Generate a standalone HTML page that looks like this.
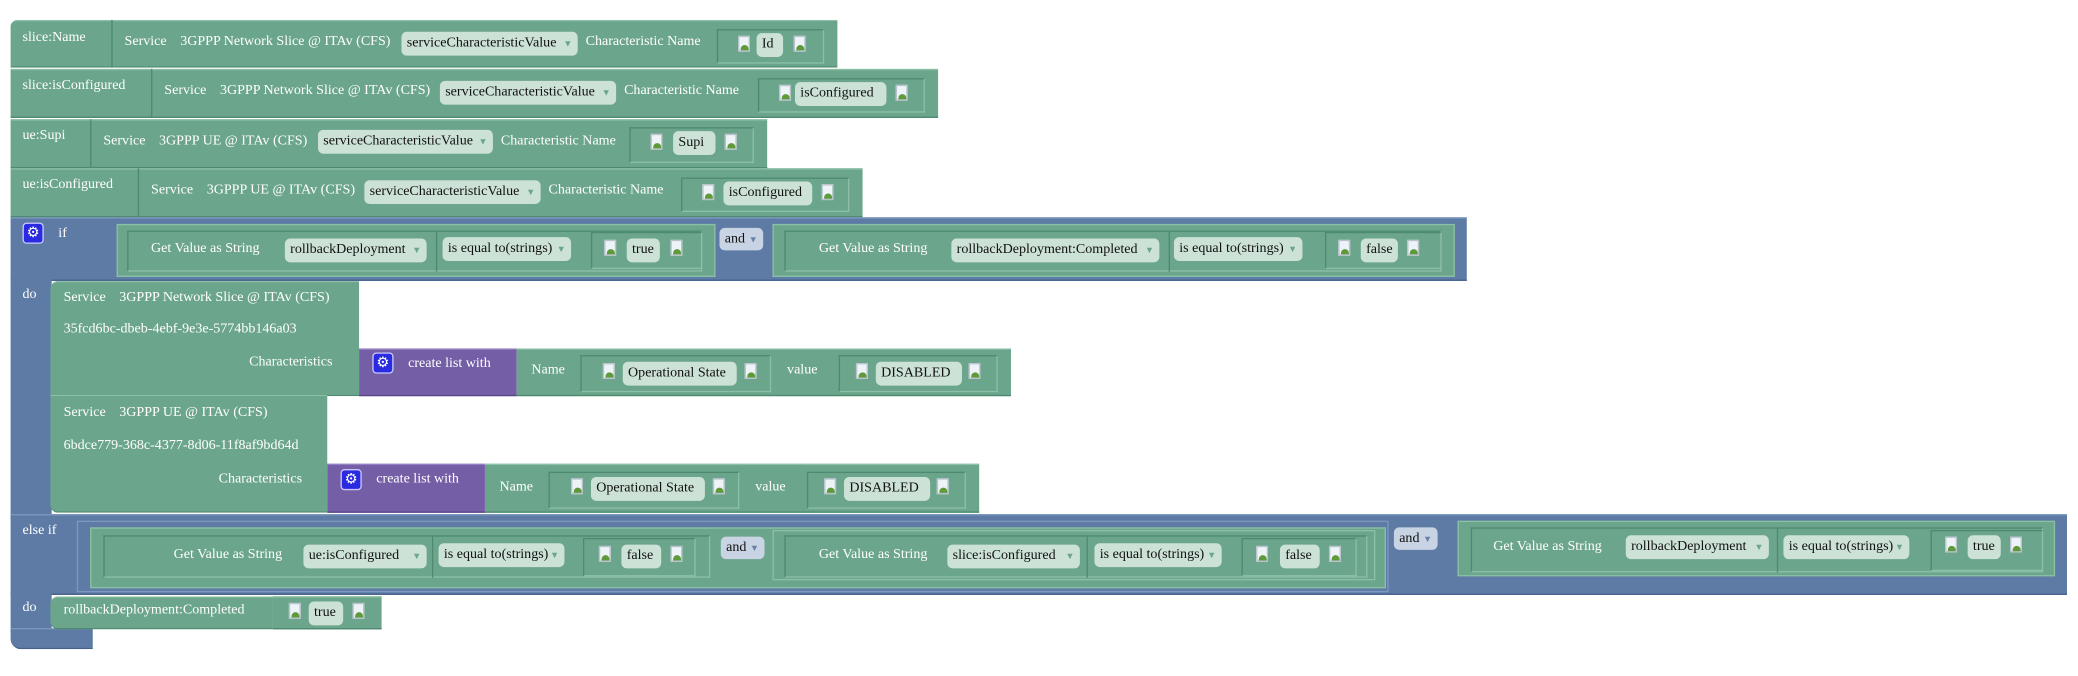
<!DOCTYPE html>
<html><head><meta charset="utf-8"><style>
html,body{margin:0;padding:0;background:#fff;width:2078px;height:674px;overflow:hidden}
#c{position:absolute;left:0;top:0;transform:scale(1.325);transform-origin:0 0;width:1570px;height:510px}
.g{position:absolute;background:#6ba58b;border-top:1px solid #8cc0a6;border-bottom:1px solid #4e8a70;box-sizing:border-box}
.bl{position:absolute;background:#5d7ba5;border-top:1px solid #7d98c0;border-bottom:1px solid #46628a;box-sizing:border-box}
.pu{position:absolute;background:#745ea6;border-top:1px solid #937fc2;border-bottom:1px solid #5a4688;box-sizing:border-box}
.ib{position:absolute;background:#6ba58b;border:1px solid #4e8a70;border-right-color:#8cc0a6;border-bottom-color:#8cc0a6;box-sizing:border-box}
.t{position:absolute;color:#fff;font:10.6px "Liberation Serif",serif;white-space:nowrap;line-height:14px}
.p{position:absolute;background:#cde2d6;color:#111;font:10.6px "Liberation Serif",serif;white-space:nowrap;border-radius:4px;height:18px;line-height:18px;padding:0 4px;box-sizing:border-box;overflow:hidden}
.a{position:absolute;background:#c8d3e3;color:#111;font:10.6px "Liberation Serif",serif;border-radius:4px;height:17px;line-height:17px;padding:0 4px;white-space:nowrap}
.ar{color:#6ba58b;font-size:7px;position:absolute;right:4px}
.aa{color:#6b82a8;font-size:7px}
.im{position:absolute;width:9px;height:12px;background:#eef3f7;border:1px solid #b8c2cc;box-sizing:border-box}
.im:after{content:"";position:absolute;left:1px;bottom:0;width:6px;height:4px;background:#5e9a3a;border-radius:3px 3px 0 0}
.gear{position:absolute;width:16px;height:16px;background:#2a2ae0;border:1px solid #c8c8ff;border-radius:3px;box-sizing:border-box;color:#fff;font-size:11px;line-height:14px;text-align:center}
.sep{position:absolute;width:1px;background:#4e8a70}
</style></head><body><div id="c">

<!-- Row1 -->
<div class="g" style="left:8px;top:15px;width:624px;height:36px;border-radius:5px 0 0 0"></div>
<div class="sep" style="left:84px;top:15px;height:36px"></div>
<div class="t" style="left:17px;top:22px">slice:Name</div>
<div class="t" style="left:94px;top:25px">Service</div>
<div class="t" style="left:136px;top:25px">3GPPP Network Slice @ ITAv (CFS)</div>
<div class="p" style="left:303px;top:24px;width:133px">serviceCharacteristicValue <span class="ar">▼</span></div>
<div class="t" style="left:442px;top:25px">Characteristic Name</div>
<div class="ib" style="left:541px;top:22px;width:81px;height:26px"></div>
<div class="im" style="left:557px;top:27px"></div>
<div class="p" style="left:571px;top:25px;width:20px">Id</div>
<div class="im" style="left:599px;top:27px"></div>

<!-- Row2 -->
<div class="g" style="left:8px;top:52px;width:700px;height:37px"></div>
<div class="sep" style="left:114px;top:52px;height:37px"></div>
<div class="t" style="left:17px;top:58px">slice:isConfigured</div>
<div class="t" style="left:124px;top:62px">Service</div>
<div class="t" style="left:166px;top:62px">3GPPP Network Slice @ ITAv (CFS)</div>
<div class="p" style="left:332px;top:61px;width:133px">serviceCharacteristicValue <span class="ar">▼</span></div>
<div class="t" style="left:471px;top:62px">Characteristic Name</div>
<div class="ib" style="left:572px;top:59px;width:126px;height:26px"></div>
<div class="im" style="left:588px;top:64px"></div>
<div class="p" style="left:600px;top:62px;width:69px">isConfigured</div>
<div class="im" style="left:676px;top:64px"></div>

<!-- Row3 -->
<div class="g" style="left:8px;top:90px;width:571px;height:37px"></div>
<div class="sep" style="left:68px;top:90px;height:37px"></div>
<div class="t" style="left:17px;top:96px">ue:Supi</div>
<div class="t" style="left:78px;top:100px">Service</div>
<div class="t" style="left:120px;top:100px">3GPPP UE @ ITAv (CFS)</div>
<div class="p" style="left:240px;top:98px;width:132px">serviceCharacteristicValue <span class="ar">▼</span></div>
<div class="t" style="left:378px;top:100px">Characteristic Name</div>
<div class="ib" style="left:475px;top:96px;width:94px;height:27px"></div>
<div class="im" style="left:491px;top:101px"></div>
<div class="p" style="left:508px;top:99px;width:32px">Supi</div>
<div class="im" style="left:547px;top:101px"></div>

<!-- Row4 -->
<div class="g" style="left:8px;top:127px;width:643px;height:37px"></div>
<div class="sep" style="left:104px;top:127px;height:37px"></div>
<div class="t" style="left:17px;top:133px">ue:isConfigured</div>
<div class="t" style="left:114px;top:137px">Service</div>
<div class="t" style="left:156px;top:137px">3GPPP UE @ ITAv (CFS)</div>
<div class="p" style="left:275px;top:136px;width:133px">serviceCharacteristicValue <span class="ar">▼</span></div>
<div class="t" style="left:414px;top:137px">Characteristic Name</div>
<div class="ib" style="left:514px;top:134px;width:127px;height:26px"></div>
<div class="im" style="left:530px;top:139px"></div>
<div class="p" style="left:546px;top:137px;width:67px">isConfigured</div>
<div class="im" style="left:620px;top:139px"></div>

<!-- IF block -->
<div class="bl" style="left:8px;top:164px;width:1099px;height:48px"></div>
<div class="bl" style="left:8px;top:210px;width:31px;height:182px;border:none"></div>
<div class="bl" style="left:8px;top:388px;width:1552px;height:61px"></div>
<div class="bl" style="left:8px;top:447px;width:31px;height:30px;border:none"></div>
<div class="bl" style="left:8px;top:474px;width:62px;height:16px;border-radius:0 0 0 8px"></div>
<div class="gear" style="left:17px;top:168px">⚙</div>
<div class="t" style="left:44px;top:170px">if</div>
<div class="g" style="left:88px;top:169px;width:452px;height:40px;border:1px solid #8cc0a6"></div>
<div class="ib" style="left:96px;top:174px;width:434px;height:31px"></div>
<div class="t" style="left:114px;top:181px">Get Value as String</div>
<div class="p" style="left:215px;top:180px;width:107px">rollbackDeployment <span class="ar">▼</span></div>
<div class="sep" style="left:329px;top:174px;height:31px"></div>
<div class="p" style="left:334px;top:179px;width:97px">is equal to(strings) <span class="ar">▼</span></div>
<div class="ib" style="left:446px;top:175px;width:84px;height:28px"></div>
<div class="im" style="left:456px;top:181px"></div>
<div class="p" style="left:473px;top:180px;width:25px">true</div>
<div class="im" style="left:506px;top:181px"></div>
<div class="a" style="left:543px;top:172px">and <span class="aa">▼</span></div>
<div class="g" style="left:583px;top:169px;width:515px;height:40px;border:1px solid #8cc0a6"></div>
<div class="ib" style="left:592px;top:174px;width:496px;height:31px"></div>
<div class="t" style="left:618px;top:181px">Get Value as String</div>
<div class="p" style="left:718px;top:180px;width:157px">rollbackDeployment:Completed <span class="ar">▼</span></div>
<div class="sep" style="left:882px;top:174px;height:31px"></div>
<div class="p" style="left:886px;top:179px;width:97px">is equal to(strings) <span class="ar">▼</span></div>
<div class="ib" style="left:1000px;top:175px;width:88px;height:28px"></div>
<div class="im" style="left:1010px;top:181px"></div>
<div class="p" style="left:1027px;top:180px;width:28px">false</div>
<div class="im" style="left:1062px;top:181px"></div>

<div class="t" style="left:17px;top:216px">do</div>
<!-- Service 1 -->
<div class="g" style="left:38px;top:212px;width:233px;height:87px;border-radius:6px 0 0 0"></div>
<div class="t" style="left:48px;top:218px">Service</div>
<div class="t" style="left:90px;top:218px">3GPPP Network Slice @ ITAv (CFS)</div>
<div class="t" style="left:48px;top:242px">35fcd6bc-dbeb-4ebf-9e3e-5774bb146a03</div>
<div class="t" style="left:188px;top:267px">Characteristics</div>
<div class="pu" style="left:271px;top:263px;width:119px;height:36px"></div>
<div class="gear" style="left:281px;top:266px">⚙</div>
<div class="t" style="left:308px;top:268px">create list with</div>
<div class="g" style="left:390px;top:263px;width:373px;height:36px"></div>
<div class="t" style="left:401px;top:273px">Name</div>
<div class="ib" style="left:438px;top:268px;width:144px;height:28px"></div>
<div class="im" style="left:455px;top:274px"></div>
<div class="p" style="left:470px;top:273px;width:86px">Operational State</div>
<div class="im" style="left:562px;top:274px"></div>
<div class="t" style="left:594px;top:273px">value</div>
<div class="ib" style="left:633px;top:268px;width:120px;height:28px"></div>
<div class="im" style="left:646px;top:274px"></div>
<div class="p" style="left:661px;top:273px;width:65px">DISABLED</div>
<div class="im" style="left:731px;top:274px"></div>
<!-- Service 2 -->
<div class="g" style="left:38px;top:298px;width:209px;height:89px;border-radius:0 0 0 6px"></div>
<div class="t" style="left:48px;top:305px">Service</div>
<div class="t" style="left:90px;top:305px">3GPPP UE @ ITAv (CFS)</div>
<div class="t" style="left:48px;top:330px">6bdce779-368c-4377-8d06-11f8af9bd64d</div>
<div class="t" style="left:165px;top:355px">Characteristics</div>
<div class="pu" style="left:247px;top:350px;width:119px;height:37px"></div>
<div class="gear" style="left:257px;top:354px">⚙</div>
<div class="t" style="left:284px;top:355px">create list with</div>
<div class="g" style="left:366px;top:350px;width:373px;height:37px"></div>
<div class="t" style="left:377px;top:361px">Name</div>
<div class="ib" style="left:414px;top:356px;width:144px;height:28px"></div>
<div class="im" style="left:431px;top:361px"></div>
<div class="p" style="left:446px;top:360px;width:86px">Operational State</div>
<div class="im" style="left:538px;top:361px"></div>
<div class="t" style="left:570px;top:361px">value</div>
<div class="ib" style="left:609px;top:356px;width:120px;height:28px"></div>
<div class="im" style="left:622px;top:361px"></div>
<div class="p" style="left:637px;top:360px;width:65px">DISABLED</div>
<div class="im" style="left:707px;top:361px"></div>

<!-- else if -->
<div class="t" style="left:17px;top:394px">else if</div>
<div class="bl" style="left:58px;top:393px;width:990px;height:54px;border:1px solid #7d98c0"></div>
<div class="g" style="left:68px;top:398px;width:978px;height:46px;border:1px solid #8cc0a6"></div>
<div class="ib" style="left:78px;top:404px;width:458px;height:32px"></div>
<div class="t" style="left:131px;top:412px">Get Value as String</div>
<div class="p" style="left:229px;top:411px;width:93px">ue:isConfigured <span class="ar">▼</span></div>
<div class="sep" style="left:326px;top:404px;height:32px"></div>
<div class="p" style="left:331px;top:410px;width:95px">is equal to(strings) <span class="ar">▼</span></div>
<div class="ib" style="left:440px;top:406px;width:85px;height:29px"></div>
<div class="im" style="left:452px;top:412px"></div>
<div class="p" style="left:469px;top:411px;width:30px">false</div>
<div class="im" style="left:506px;top:412px"></div>
<div class="a" style="left:544px;top:405px">and <span class="aa">▼</span></div>
<div class="g" style="left:583px;top:400px;width:455px;height:38px;border:1px solid #8cc0a6"></div>
<div class="ib" style="left:592px;top:404px;width:440px;height:32px"></div>
<div class="t" style="left:618px;top:412px">Get Value as String</div>
<div class="p" style="left:715px;top:411px;width:100px">slice:isConfigured <span class="ar">▼</span></div>
<div class="sep" style="left:820px;top:404px;height:32px"></div>
<div class="p" style="left:826px;top:410px;width:96px">is equal to(strings) <span class="ar">▼</span></div>
<div class="ib" style="left:937px;top:406px;width:87px;height:29px"></div>
<div class="im" style="left:948px;top:412px"></div>
<div class="p" style="left:966px;top:411px;width:30px">false</div>
<div class="im" style="left:1003px;top:412px"></div>
<div class="a" style="left:1052px;top:398px">and <span class="aa">▼</span></div>
<div class="g" style="left:1100px;top:393px;width:451px;height:42px;border:1px solid #8cc0a6"></div>
<div class="ib" style="left:1110px;top:398px;width:432px;height:34px"></div>
<div class="t" style="left:1127px;top:406px">Get Value as String</div>
<div class="p" style="left:1227px;top:404px;width:108px">rollbackDeployment <span class="ar">▼</span></div>
<div class="sep" style="left:1341px;top:398px;height:34px"></div>
<div class="p" style="left:1346px;top:404px;width:95px">is equal to(strings) <span class="ar">▼</span></div>
<div class="ib" style="left:1457px;top:400px;width:85px;height:31px"></div>
<div class="im" style="left:1468px;top:405px"></div>
<div class="p" style="left:1485px;top:404px;width:25px">true</div>
<div class="im" style="left:1517px;top:405px"></div>

<!-- do 2 -->
<div class="t" style="left:17px;top:452px">do</div>
<div class="g" style="left:38px;top:450px;width:168px;height:25px;border-radius:6px 0 0 6px"></div>
<div class="t" style="left:48px;top:454px">rollbackDeployment:Completed</div>
<div class="g" style="left:206px;top:450px;width:82px;height:25px"></div>
<div class="im" style="left:218px;top:455px"></div>
<div class="p" style="left:233px;top:454px;width:26px">true</div>
<div class="im" style="left:266px;top:455px"></div>

</div></body></html>
